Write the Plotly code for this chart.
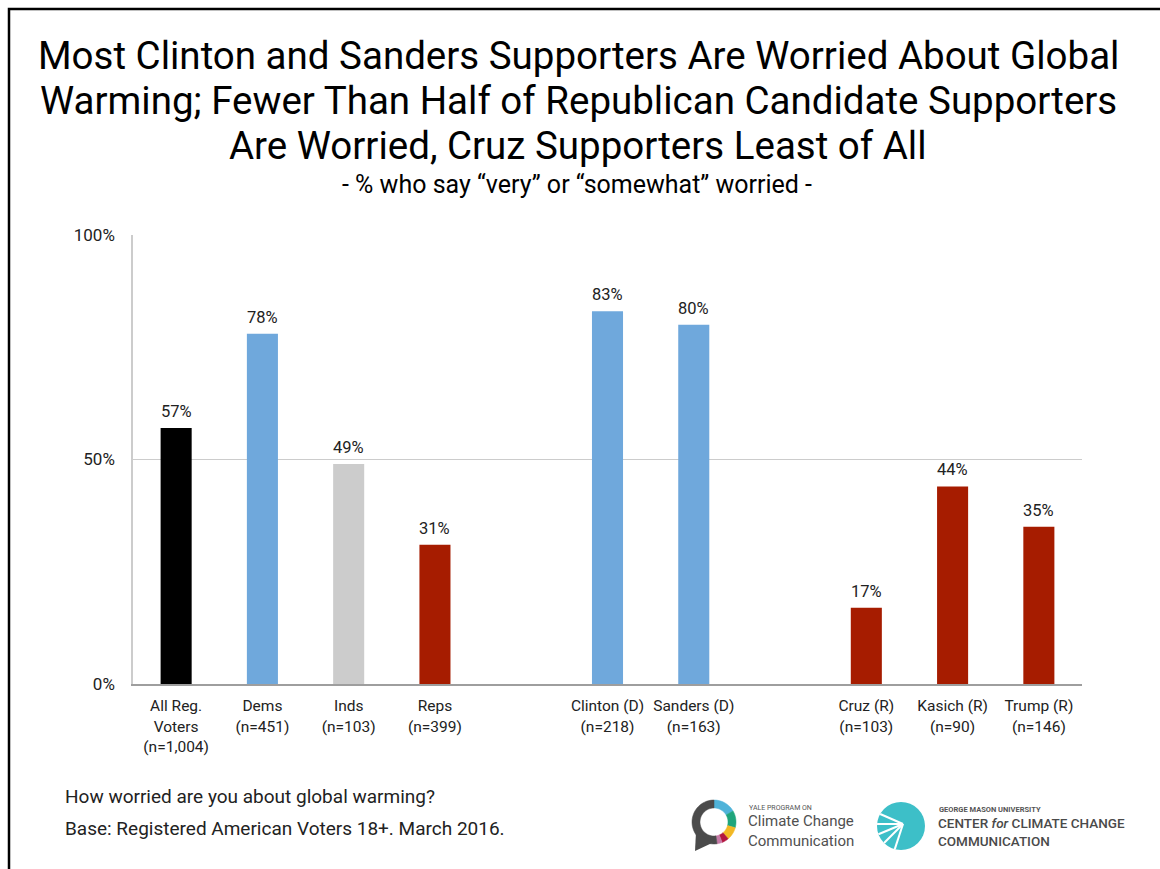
import math
import plotly.graph_objects as go

# ---------------- data ----------------
categories = ["All Reg.<br>Voters<br>(n=1,004)", "Dems<br>(n=451)", "Inds<br>(n=103)", "Reps<br>(n=399)",
              "Clinton (D)<br>(n=218)", "Sanders (D)<br>(n=163)",
              "Cruz (R)<br>(n=103)", "Kasich (R)<br>(n=90)", "Trump (R)<br>(n=146)"]
values = [57, 78, 49, 31, 83, 80, 17, 44, 35]
bar_colors = ["#000000", "#6fa8dc", "#cccccc", "#a61c00",
              "#6fa8dc", "#6fa8dc", "#a61c00", "#a61c00", "#a61c00"]
# category order with blank spacer slots between the groups
category_order = categories[:4] + [" "] + categories[4:6] + ["  "] + categories[6:]
y_ticks = [0, 50, 100]
y_tick_labels = ["0%", "50%", "100%"]

title_lines = ["Most Clinton and Sanders Supporters Are Worried About Global",
               "Warming; Fewer Than Half of Republican Candidate Supporters",
               "Are Worried, Cruz Supporters Least of All"]
subtitle = "- % who say “very” or “somewhat” worried -"
footer = ["How worried are you about global warming?",
          "Base: Registered American Voters 18+. March 2016."]

# Yale logo ring segments (decoration): degrees clockwise from 12 o'clock
ring_values = [60, 45, 35, 18, 14, 188]
ring_colors = ["#4fb3d9", "#1fa57c", "#f2b824", "#b3163f", "#c67aa7", "#4b4b4b"]

FONT = "Roboto, 'Open Sans', sans-serif"
W, H = 1160, 869
ML, MR, MT, MB = 133, 78, 235, 185
PW, PH = W - ML - MR, H - MT - MB


def px(x):
    return (x - ML) / PW


def py(y):
    return (H - MB - y) / PH


fig = go.Figure()
fig.add_trace(go.Bar(
    x=categories, y=values, marker=dict(color=bar_colors, line=dict(width=0)),
    width=0.36, hoverinfo="skip", showlegend=False))

# value labels above bars
for c, v in zip(categories, values):
    fig.add_annotation(x=c, y=v, xref="x", yref="y", text=f"{v}%", showarrow=False,
                       yanchor="bottom", yshift=5,
                       font=dict(family=FONT, size=16.5, color="#222222"))

# title
for i, line in enumerate(title_lines):
    fig.add_annotation(x=px(578), y=py(55 + 45 * i), xref="paper", yref="paper", text=line,
                       showarrow=False, xanchor="center", yanchor="middle",
                       font=dict(family=FONT, size=38.5, color="#000000"))
fig.add_annotation(x=px(577), y=py(184), xref="paper", yref="paper", text=subtitle,
                   showarrow=False, xanchor="center", yanchor="middle",
                   font=dict(family=FONT, size=25, color="#000000"))
# footer
for i, line in enumerate(footer):
    fig.add_annotation(x=px(63), y=py(796 + 32 * i), xref="paper", yref="paper", text=line,
                       showarrow=False, xanchor="left", yanchor="middle",
                       font=dict(family=FONT, size=19, color="#222222"))

# ---- Yale logo ring ----
rcx, rcy, r_out, r_in = 714, 822, 22, 14
start = 0.0
for val, col in zip(ring_values, ring_colors):
    a0, a1 = start, start + val
    start = a1
    n = max(4, int(val / 5))
    pts_out = [(rcx + r_out * math.sin(math.radians(a0 + (a1 - a0) * k / n)),
                rcy - r_out * math.cos(math.radians(a0 + (a1 - a0) * k / n))) for k in range(n + 1)]
    pts_in = [(rcx + r_in * math.sin(math.radians(a1 - (a1 - a0) * k / n)),
               rcy - r_in * math.cos(math.radians(a1 - (a1 - a0) * k / n))) for k in range(n + 1)]
    pts = pts_out + pts_in
    path = "M " + " L ".join(f"{px(a)} {py(b)}" for a, b in pts) + " Z"
    fig.add_shape(type="path", xref="paper", yref="paper", path=path,
                  fillcolor=col, line=dict(width=0.5, color=col))
fig.add_shape(type="path", xref="paper", yref="paper",
              path=f"M {px(696)} {py(832)} L {px(695)} {py(851)} L {px(712)} {py(843)} Z",
              fillcolor="#4b4b4b", line=dict(width=0))
fig.add_annotation(x=px(747), y=py(808), xref="paper", yref="paper", text="YALE PROGRAM ON",
                   showarrow=False, xanchor="left", yanchor="middle",
                   font=dict(family=FONT, size=7, color="#555555"))
fig.add_annotation(x=px(746), y=py(831), xref="paper", yref="paper",
                   text="Climate Change<br>Communication", showarrow=False,
                   xanchor="left", yanchor="middle", align="left",
                   font=dict(family=FONT, size=15, color="#505050"))

# ---- GMU logo ----
fig.add_shape(type="circle", xref="paper", yref="paper",
              x0=px(877), x1=px(925), y0=py(850), y1=py(802),
              fillcolor="#3dbfc8", line=dict(width=0))
cx, cy = 903, 824
for ang in [150, 175, 200, 225, 255]:
    ex = 901 + 24 * math.cos(math.radians(ang))
    ey = 826 - 24 * math.sin(math.radians(ang))
    fig.add_shape(type="line", xref="paper", yref="paper",
                  x0=px(cx), y0=py(cy), x1=px(ex), y1=py(ey),
                  line=dict(color="white", width=2))
fig.add_annotation(x=px(937), y=py(809), xref="paper", yref="paper",
                   text="<b>GEORGE MASON UNIVERSITY</b>", showarrow=False,
                   xanchor="left", yanchor="middle",
                   font=dict(family=FONT, size=7.5, color="#555555"))
fig.add_annotation(x=px(936), y=py(832), xref="paper", yref="paper",
                   text="CENTER <i>for</i> CLIMATE CHANGE<br>COMMUNICATION", showarrow=False,
                   xanchor="left", yanchor="middle", align="left",
                   font=dict(family=FONT, size=13.5, color="#4a4a4a", weight=500))

# frame border
fig.add_shape(type="path", xref="paper", yref="paper",
              path=f"M {px(9)} {py(880)} L {px(9)} {py(9)} L {px(1170)} {py(9)}",
              line=dict(color="#000000", width=2.5))

fig.update_layout(
    width=W, height=H,
    margin=dict(l=ML, r=MR, t=MT, b=MB, pad=0),
    paper_bgcolor="white", plot_bgcolor="white",
    font=dict(family=FONT, color="#222222"),
    bargap=0.5,
    xaxis=dict(type="category", categoryorder="array", categoryarray=category_order,
               range=[-0.5, 10.5], showgrid=False, showline=True, linecolor="#9e9e9e",
               linewidth=1.5, ticks="", tickfont=dict(family=FONT, size=15.5, color="#222222"),
               ticklabelstandoff=7, fixedrange=True),
    yaxis=dict(range=[0, 100], tickmode="array", tickvals=y_ticks, ticktext=y_tick_labels,
               showgrid=True, gridcolor="#cccccc", gridwidth=1, showline=True,
               linecolor="#cccccc", linewidth=1.5, zeroline=False, ticks="",
               tickfont=dict(family=FONT, size=17, color="#222222"),
               ticklabelstandoff=13, fixedrange=True),
)

fig.write_html("out.html", config={"displayModeBar": False},
               post_script="document.body.style.margin='0';document.body.style.overflow='hidden';")
